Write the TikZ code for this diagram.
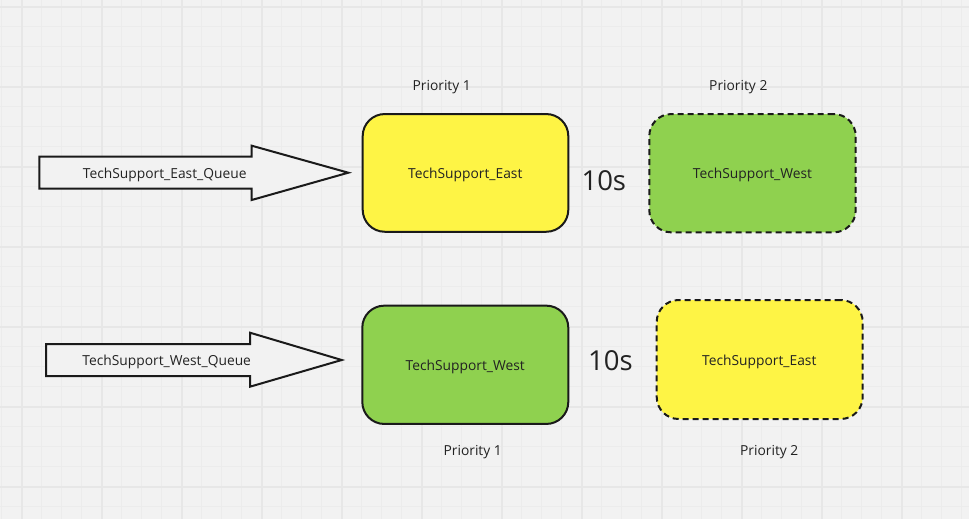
\documentclass[tikz,border=0pt]{standalone}
\usepackage{fontspec}
\setmainfont{Open Sans}
\definecolor{bg}{HTML}{F2F2F2}
\definecolor{gridminor}{HTML}{ECECEC}
\definecolor{gridmajor}{HTML}{E7E7E7}
\definecolor{ink}{HTML}{1A1A1A}
\definecolor{txt}{HTML}{222222}
\definecolor{myyellow}{HTML}{FEF445}
\definecolor{mygreen}{HTML}{8FD14F}
\tikzset{
  box/.style={rectangle, rounded corners=22pt, draw=ink, line width=2pt, inner sep=0pt},
  dashbox/.style={box, dash pattern=on 6pt off 4pt},
  lbl/.style={text=txt, font=\fontsize{13.8}{16}\selectfont, inner sep=0pt, anchor=base},
  big/.style={text=txt, font=\fontsize{27.5}{32}\selectfont, inner sep=0pt, anchor=base},
  bigarrow/.style={draw=ink, fill=bg, line width=2pt, line join=miter},
}
\begin{document}
\begin{tikzpicture}[x=1pt,y=-1pt]
\fill[bg] (0,0) rectangle (969,519);
\useasboundingbox (0,0) rectangle (969,519);
% grid
\foreach \x in {1.7,21.7,...,969}{\draw[gridminor,line width=1pt] (\x,0) -- (\x,519);}
\foreach \y in {6.7,26.7,...,519}{\draw[gridminor,line width=1pt] (0,\y) -- (969,\y);}
\foreach \x in {21.7,101.7,...,969}{\draw[gridmajor,line width=2pt] (\x,0) -- (\x,519);}
\foreach \y in {6.7,86.7,...,519}{\draw[gridmajor,line width=2pt] (0,\y) -- (969,\y);}

% arrows
\draw[bigarrow] (39.3,156.7) -- (251.7,156.7) -- (251.7,145.7) -- (348.3,172.7)
  -- (251.7,200) -- (251.7,188.7) -- (39.3,188.7) -- cycle;
\node[lbl] (q1) at (164.7,178.3) {TechSupport\_East\_Queue};
\draw[bigarrow] (46,344) -- (250,344) -- (250,332.7) -- (341.7,360)
  -- (250,386.7) -- (250,376) -- (46,376) -- cycle;
\node[lbl] (q2) at (166.7,365.7) {TechSupport\_West\_Queue};

% top row
\node[box, fill=myyellow, minimum width=205.6pt, minimum height=117.7pt] (e1) at (465.5,172.9) {};
\node[lbl] (e1t) at (465.3,178.3) {TechSupport\_East};
\node[dashbox, fill=mygreen, minimum width=206.4pt, minimum height=118.3pt] (w1) at (752.5,173.2) {};
\node[lbl] (w1t) at (752.5,178.3) {TechSupport\_West};
\node[big] (t1) at (603.8,190.7) {10s};
\node[lbl] (p11) at (441.7,90) {Priority 1};
\node[lbl] (p12) at (738.3,90) {Priority 2};

% bottom row
\node[box, fill=mygreen, minimum width=206pt, minimum height=118.3pt] (w2) at (465.3,364.8) {};
\node[lbl] (w2t) at (465.2,370.3) {TechSupport\_West};
\node[dashbox, fill=myyellow, minimum width=206pt, minimum height=119pt] (e2) at (759.7,359.5) {};
\node[lbl] (e2t) at (759.3,365.7) {TechSupport\_East};
\node[big] (t2) at (610.4,370.7) {10s};
\node[lbl] (p21) at (472.7,455.7) {Priority 1};
\node[lbl] (p22) at (769.2,455.7) {Priority 2};
\end{tikzpicture}
\end{document}
